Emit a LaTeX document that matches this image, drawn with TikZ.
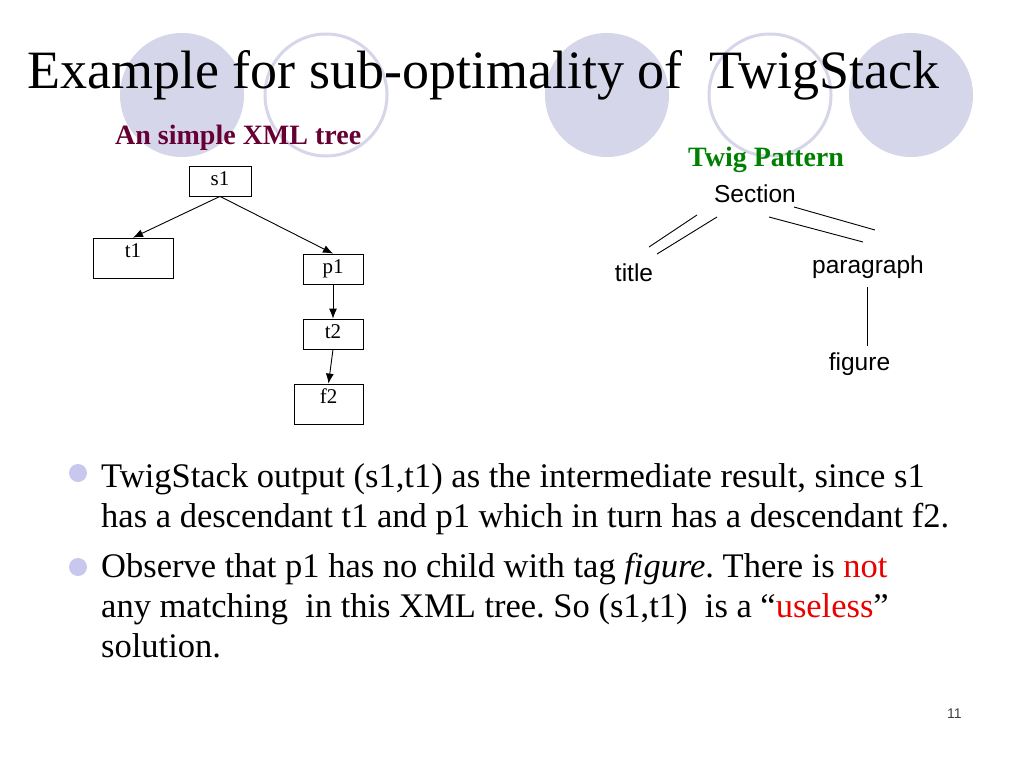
\documentclass[tikz,border=0pt]{standalone}
\usepackage{fontspec}
\setmainfont{Liberation Serif}
\newfontfamily\arialfont{Liberation Sans}
\usepackage{tikz}
\usetikzlibrary{calc, arrows.meta}
\frenchspacing
\definecolor{themeLavender}{RGB}{214,214,235}
\definecolor{themeBullet}{RGB}{200,200,238}
\definecolor{themeMaroon}{RGB}{102,0,51}
\definecolor{themeGreen}{RGB}{0,128,0}
\definecolor{themeRed}{RGB}{235,0,0}
\newcommand{\lTitle}{Example for sub-optimality of\ \ TwigStack}
\newcommand{\lTree}{An simple XML tree}
\newcommand{\lTwig}{Twig Pattern}
\newcommand{\lFirst}{TwigStack output (s1,t1) as the intermediate result, since s1\\has a descendant t1 and p1 which in turn has a descendant f2.}
\newcommand{\lSecond}{Observe that p1 has no child with tag \textit{figure}. There is \textcolor{themeRed}{not}\\any matching\ \ in this XML tree. So (s1,t1)\ \ is a “\textcolor{themeRed}{useless}”\\solution.}

\begin{document}
\begin{tikzpicture} [
        x=1pt, y=-1pt,
        deco disc/.style={fill=themeLavender},
        deco ring/.style={draw=themeLavender, line width=3pt},
        slide title/.style={anchor=base west, inner sep=0pt, font=\fontsize{54}{54}\selectfont},
        sub title/.style={anchor=base west, inner sep=0pt, font=\bfseries\fontsize{28}{28}\selectfont},
        xml box/.style={draw, line width=0.8pt, inner xsep=0pt, inner ysep=5pt, text height=14pt, font=\fontsize{21}{21}\selectfont},
        tree edge/.style={-{Latex[length=10pt, width=8pt]}, line width=0.9pt},
        twig node/.style={anchor=base, inner sep=0pt, font=\arialfont\fontsize{24.5}{24.5}\selectfont},
        twig edge/.style={line width=0.9pt},
        bullet dot/.style={circle, fill=themeBullet, minimum size=18pt, inner sep=0pt},
        bullet text/.style={anchor=base west, inner sep=0pt, align=left, font=\fontsize{34.5}{40}\selectfont}
    ]

    \path[use as bounding box, fill=white] (0,0) rectangle (1024,768);

    % background circles
    \fill[deco disc] (182,95) circle (62pt);
    \draw[deco ring] (326,95) circle (61pt);
    \fill[deco disc] (607,95) circle (62pt);
    \draw[deco ring] (770,95) circle (61pt);
    \fill[deco disc] (911,95) circle (62pt);

    \path (27,88) node[slide title] (title) {\lTitle};

    % XML tree
    \path (115,144) node[sub title, text=themeMaroon] (tree caption) {\lTree};
    \path (220,181) node[xml box, minimum width=62pt, minimum height=30pt, text depth=6pt] (s1) {s1};
    \path (s1.center) ++(-87,77) node[xml box, minimum width=80pt, minimum height=40pt, text depth=16pt] (t1) {t1};
    \path (s1.center) ++(113,88) node[xml box, minimum width=60pt, minimum height=30pt, text depth=6pt] (p1) {p1};
    \path (p1.center) ++(0,65) node[xml box, minimum width=60pt, minimum height=30pt, text depth=6pt] (t2) {t2};
    \path (t2.center) ++(-4.5,70) node[xml box, minimum width=69pt, minimum height=40pt, text depth=16pt] (f2) {f2};

    \draw[tree edge] (s1.south) -- (t1.north);
    \draw[tree edge] (s1.south) -- (p1.north);
    \draw[tree edge] (p1.south) -- (t2.north);
    \draw[tree edge] (t2.south) -- (f2.north);

    % twig pattern
    \path (688,166) node[sub title, text=themeGreen] (twig caption) {\lTwig};
    \path (755,202) node[twig node] (section) {Section};
    \path (634,281) node[twig node] (title tag) {title};
    \path (868,273) node[twig node] (paragraph) {paragraph};
    \path (859.5,370) node[twig node] (figure) {figure};

    \coordinate (st a1) at (697,215);
    \coordinate (st a2) at (649,247);
    \coordinate (st b1) at (717,217);
    \coordinate (st b2) at (657,254);
    \coordinate (sp a1) at (794,207);
    \coordinate (sp a2) at (875,230);
    \coordinate (sp b1) at (769,217);
    \coordinate (sp b2) at (863,242);
    \coordinate (pf a) at (867,287);
    \coordinate (pf b) at (867,346);

    \draw[twig edge] (st a1) -- (st a2);
    \draw[twig edge] (st b1) -- (st b2);
    \draw[twig edge] (sp a1) -- (sp a2);
    \draw[twig edge] (sp b1) -- (sp b2);
    \draw[twig edge] (pf a) -- (pf b);

    % bullets (base = last line)
    \path (78,473) node[bullet dot] (dot 1) {};
    \path (101,527) node[bullet text] (first) {\lFirst};
    \path (78,567) node[bullet dot] (dot 2) {};
    \path (101,657) node[bullet text] (second) {\lSecond};

    \path (947,718) node[anchor=base west, inner sep=0pt, text=black!75, font=\arialfont\fontsize{14}{14}\selectfont] (page) {11};

\end{tikzpicture}
\end{document}
